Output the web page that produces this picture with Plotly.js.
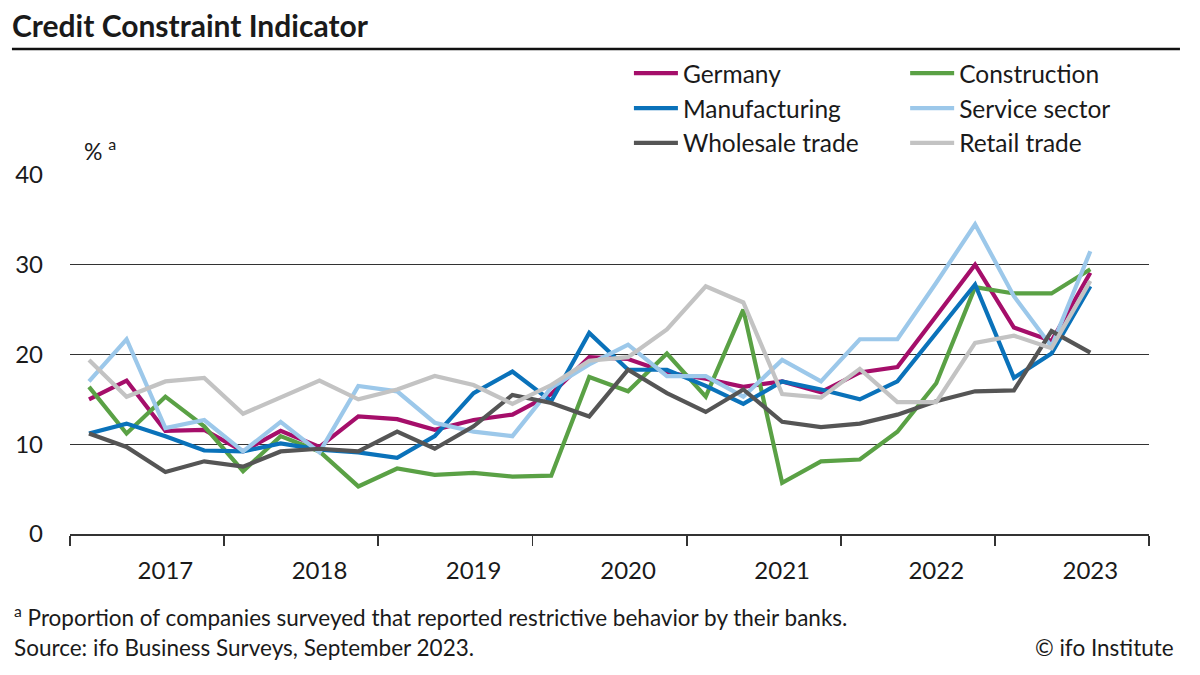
<!DOCTYPE html>
<html>
<head>
<meta charset="utf-8">
<script src="https://cdn.plot.ly/plotly-3.0.1.min.js"></script>
<style>
  html, body { margin: 0; padding: 0; background: #ffffff; }
  #chart { width: 1200px; height: 675px; }
</style>
</head>
<body>
<div id="chart"></div>
<script>
// Quarterly survey dates (mid-Feb, mid-May, mid-Aug, mid-Nov)
const quarters = [
  '2017-02-15','2017-05-15','2017-08-15','2017-11-15',
  '2018-02-15','2018-05-15','2018-08-15','2018-11-15',
  '2019-02-15','2019-05-15','2019-08-15','2019-11-15',
  '2020-02-15','2020-05-15','2020-08-15','2020-11-15',
  '2021-02-15','2021-05-15','2021-08-15','2021-11-15',
  '2022-02-15','2022-05-15','2022-08-15','2022-11-15',
  '2023-02-15','2023-05-15','2023-08-15'
];
const years = ['2017','2018','2019','2020','2021','2022','2023'];

const germany       = [15.0,17.1,11.5,11.6, 9.2,11.5, 9.7,13.1, 12.8,11.6,12.7,13.3, 15.6,19.7,19.5,18.0, 17.3,16.4,17.0,15.8, 18.0,18.6,24.3,30.0, 23.0,21.5,29.1];
const construction  = [16.4,11.2,15.3,12.0, 7.0,10.9, 9.2, 5.3,  7.3, 6.6, 6.8, 6.4,  6.5,17.5,15.9,20.1, 15.3,25.0, 5.7, 8.1,  8.3,11.4,16.8,27.5, 26.8,26.8,29.5];
const manufacturing = [11.2,12.3,10.9, 9.3, 9.2,10.1, 9.4, 9.1,  8.5,10.9,15.7,18.1, 14.8,22.4,18.3,18.3, 16.5,14.5,17.0,16.1, 15.0,17.0,22.4,27.8, 17.4,20.1,27.6];
const services      = [17.0,21.7,11.8,12.7, 9.2,12.5, 9.1,16.5, 15.9,12.4,11.4,10.9, 16.3,18.9,21.1,17.6, 17.6,15.3,19.4,17.0, 21.7,21.7,28.0,34.5, 26.5,20.9,31.5];
const wholesale     = [11.2, 9.7, 6.9, 8.1, 7.5, 9.2, 9.5, 9.2, 11.4, 9.5,12.0,15.5, 14.6,13.1,18.3,15.7, 13.6,16.1,12.5,11.9, 12.3,13.3,14.8,15.9, 16.0,22.6,20.2];
const retail        = [19.4,15.3,17.0,17.4,13.4,15.2,17.1,15.0, 16.1,17.6,16.6,14.5, 16.6,19.3,19.7,22.8, 27.6,25.8,15.6,15.2, 18.4,14.7,14.7,21.3, 22.1,20.7,28.2];

const seriesNames  = ['Germany','Construction','Manufacturing','Service sector','Wholesale trade','Retail trade'];
const seriesValues = [germany, construction, manufacturing, services, wholesale, retail];
const seriesColors = ['#A50E6A','#5AA145','#0A72BA','#9CC8EA','#555555','#C3C3C3'];
// legend column for each series (left column / right column)
const seriesLegend = ['legend','legend2','legend','legend2','legend','legend2'];

const FONT = 'Lato, "Open Sans", sans-serif';
const TXT = '#1a1a1a';

const traces = seriesNames.map((name, i) => ({
  type: 'scatter',
  mode: 'lines',
  name: name,
  x: quarters,
  y: seriesValues[i],
  legend: seriesLegend[i],
  legendgroup: name,
  line: { color: seriesColors[i], width: 4.2 },
  hoverinfo: 'skip'
}));

// invisible trace to carry the year-label axis
traces.push({
  type: 'scatter', mode: 'lines', x: quarters, y: germany,
  xaxis: 'x2', showlegend: false, hoverinfo: 'skip',
  line: { width: 0, color: 'rgba(0,0,0,0)' }
});

const yearBounds = years.map(y => y + '-01-01').concat(['2024-01-01']);
const yearMids = years.map(y => y + '-08-15');

const legendBase = {
  orientation: 'v',
  y: 1.346, yanchor: 'top',
  xanchor: 'left',
  itemwidth: 44,
  tracegroupgap: 1.5,
  font: { family: FONT, size: 24.5, color: TXT },
  bgcolor: 'rgba(0,0,0,0)',
  traceorder: 'normal'
};

const layout = {
  width: 1200, height: 675,
  paper_bgcolor: '#ffffff', plot_bgcolor: '#ffffff',
  margin: { l: 70, r: 51, t: 175, b: 141 },
  font: { family: FONT, color: TXT, size: 24 },
  title: {
    text: '<b>Credit Constraint Indicator</b>',
    x: 0.01, xanchor: 'left', xref: 'container',
    y: 0.961, yanchor: 'middle', yref: 'container',
    font: { family: FONT, size: 30, color: TXT }
  },
  showlegend: true,
  legend: Object.assign({}, legendBase, { x: 0.518 }),
  legend2: Object.assign({}, legendBase, { x: 0.774 }),
  xaxis: {
    type: 'date',
    range: ['2017-01-01', '2024-01-01'],
    tickvals: yearBounds,
    showticklabels: false,
    ticks: 'outside', ticklen: 10, tickwidth: 1.5, tickcolor: '#333333',
    showgrid: false, zeroline: false,
    showline: true, linecolor: '#333333', linewidth: 1.5,
    fixedrange: true
  },
  xaxis2: {
    type: 'date',
    overlaying: 'x', anchor: 'y', side: 'bottom',
    range: ['2017-01-01', '2024-01-01'],
    tickvals: yearMids,
    ticktext: years,
    ticks: '', showgrid: false, zeroline: false, showline: false,
    ticklabelstandoff: 20,
    tickfont: { family: FONT, size: 24, color: TXT },
    fixedrange: true
  },
  yaxis: {
    range: [0, 40],
    tickvals: [0, 10, 20, 30, 40],
    ticks: '', showgrid: true, gridcolor: '#333333', gridwidth: 1.3,
    zeroline: false, showline: false,
    ticklabelstandoff: 26,
    tickfont: { family: FONT, size: 24, color: TXT },
    fixedrange: true
  },
  shapes: [
    { type: 'line', xref: 'paper', yref: 'paper',
      x0: -0.0538, x1: 1.0287, y0: 1.351, y1: 1.351,
      line: { color: '#111111', width: 2.6 } }
  ],
  annotations: [
    { text: '% <sup>a</sup>', xref: 'paper', yref: 'paper',
      x: 0.011, y: 1.07, xanchor: 'left', yanchor: 'middle',
      showarrow: false, font: { family: FONT, size: 23, color: TXT } },
    { text: '<sup>a</sup> Proportion of companies surveyed that reported restrictive behavior by their banks.',
      xref: 'paper', yref: 'paper', x: -0.0538, y: -0.228,
      xanchor: 'left', yanchor: 'middle', showarrow: false,
      font: { family: FONT, size: 22.5, color: TXT } },
    { text: 'Source: ifo Business Surveys, September 2023.',
      xref: 'paper', yref: 'paper', x: -0.0538, y: -0.315,
      xanchor: 'left', yanchor: 'middle', showarrow: false,
      font: { family: FONT, size: 22.5, color: TXT } },
    { text: '© ifo Institute',
      xref: 'paper', yref: 'paper', x: 1.025, y: -0.315,
      xanchor: 'right', yanchor: 'middle', showarrow: false,
      font: { family: FONT, size: 22.5, color: TXT } }
  ]
};

Plotly.newPlot('chart', traces, layout, { displayModeBar: false, staticPlot: true });
</script>
</body>
</html>
